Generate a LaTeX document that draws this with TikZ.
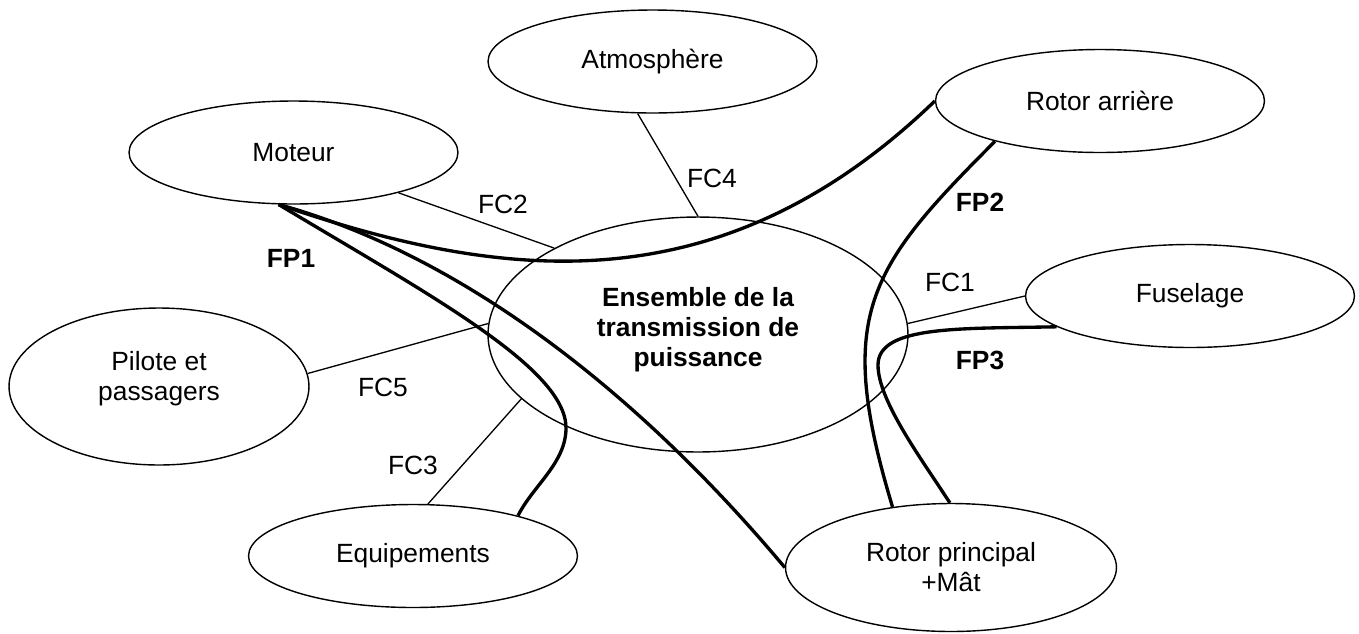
\documentclass[tikz,border=0pt]{standalone}
\usepackage{fontspec}
\setmainfont{Liberation Sans}
\usepackage{tikz}
\usetikzlibrary{shapes.geometric}
\tikzset{bulle/.style = {ellipse, draw=black, line width=0.8pt, inner sep=0pt, minimum width=6.58cm, minimum height=2.06cm, align=center, font=\fontsize{15}{17}\selectfont}}
\tikzset{fc/.style={line width=0.75pt}}
\tikzset{fp/.style={line width=1.9pt}}

\begin{document}
\begin{tikzpicture}[x=0.02cm, y=-0.02cm]
	\tikzstyle{lbl}=[inner sep=0pt, align=center, font=\fontsize{15}{17}\selectfont]
	\tikzstyle{lblgras}=[inner sep=0pt, font=\fontsize{15}{17}\selectfont\bfseries]
	\useasboundingbox (0,0) rectangle (1359,633);
	\node[bulle] (atm) at (652.5,61.5) {Atmosphère};
	\node[bulle] (mot) at (293.5,152.5) {Moteur};
	\node[bulle] (rar) at (1100,101) {Rotor arrière};
	\node[bulle] (fus) at (1190,296) {Fuselage};
	\node[bulle] (equ) at (413,556) {Equipements};
	\node[bulle, minimum width=6cm, minimum height=3.14cm] (pil) at (159,386.5) {};
	\node[lbl] (tpil) at (159,379) {Pilote et\\passagers};
	\node[bulle, minimum width=6.62cm, minimum height=2.56cm] (rpr) at (951,567.5) {Rotor principal\\+Mât};
	\node[bulle, minimum width=8.4cm, minimum height=4.7cm] (ens) at (698,334.5) {};
	\node[lbl, font=\fontsize{15}{17}\selectfont\bfseries] (tens) at (698,330) {Ensemble de la\\transmission de\\puissance};
	\draw[fc] (mot.-21) -- (ens.149);
	\draw[fc] (atm.-106) -- (ens.90);
	\draw[fc] (pil.5) -- (ens.177);
	\draw[fc] (ens.-160) -- (equ.74);
	\draw[fc] (ens.3) -- (fus.west);
	\coordinate (fp1b) at (566,428);
	\coordinate (fp3b) at (878,365);
	\draw[fp] (mot.-106) .. controls +(221,76) and +(-216,208) .. (rar.west);
	\draw[fp] (mot.-106) .. controls +(168,46) and +(-161,-192) .. (rpr.west);
	\draw[fp] (mot.-106) .. controls +(150,90) and +(0,-60) .. (fp1b) .. controls +(0,35) and +(15,-30) .. (equ.21);
	\draw[fp] (rar.-159) .. controls +(-127,127) and +(-58,-192) .. (rpr.134);
	\draw[fp] (fus.-167) .. controls +(-95,2) and +(0,-40) .. (fp3b) .. controls +(0,35) and +(-30,-46) .. (rpr.91);
	\node[lbl] (lfc2) at (503,204) {FC2};
	\node[lbl] (lfc4) at (712,178) {FC4};
	\node[lbl] (lfc1) at (950,282) {FC1};
	\node[lbl] (lfc5) at (383,387) {FC5};
	\node[lbl] (lfc3) at (413,465) {FC3};
	\node[lblgras] (lfp1) at (291,258) {FP1};
	\node[lblgras] (lfp2) at (980,202) {FP2};
	\node[lblgras] (lfp3) at (980,360) {FP3};
\end{tikzpicture}
\end{document}
